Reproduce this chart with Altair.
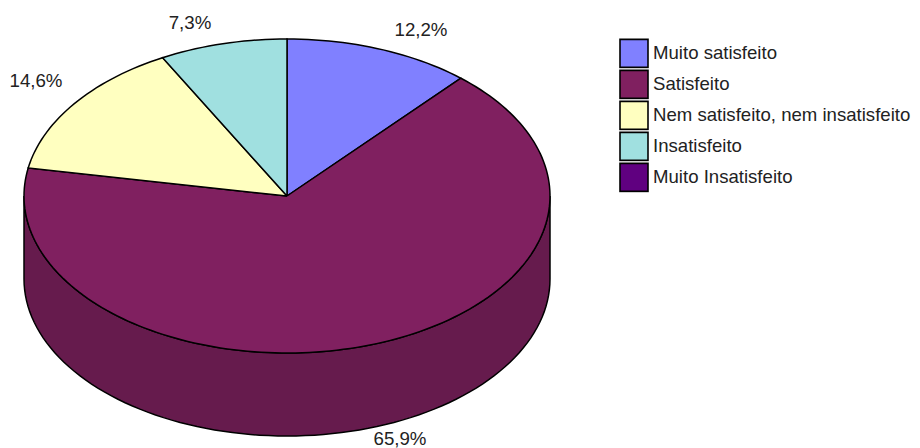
import math
import altair as alt
import pandas as pd

categories = ["Muito satisfeito", "Satisfeito", "Nem satisfeito, nem insatisfeito", "Insatisfeito", "Muito Insatisfeito"]
drawn_shares = [11.5, 66.36, 14.3, 7.84, 0.0]   # slice sizes as measured on the drawn ellipse
labels = ["12,2%", "65,9%", "14,6%", "7,3%"]
colors = ["#8080FF", "#802060", "#FFFFC0", "#A0E0E0", "#600080"]
wall_color = "#661B4D"

CX, CY, RX, RY, DEPTH = 287, 196, 263, 157, 83
label_xy = [(421, 30), (400, 439), (36, 81), (190, 23)]

def pt(deg, dy=0):
    a = math.radians(deg)
    return CX + RX * math.sin(a), CY - RY * math.cos(a) + dy

rows = []
# side wall
wall = [pt(90 + d) for d in range(0, 181, 2)] + [pt(270 - d, DEPTH) for d in range(0, 181, 2)]
wall.append(wall[0])
for i, (x, y) in enumerate(wall):
    rows.append(dict(shape="wall", i=i, x=x, y=y))
wall_df = pd.DataFrame(rows)

rows = []
start = 0.0
for cat, s in zip(categories, drawn_shares):
    if s <= 0:
        continue
    a0, a1 = start * 3.6, (start + s) * 3.6
    n = max(2, int((a1 - a0) / 1.5))
    p = [(CX, CY)] + [pt(a0 + (a1 - a0) * k / n) for k in range(n + 1)] + [(CX, CY)]
    for i, (x, y) in enumerate(p):
        rows.append(dict(cat=cat, i=i, x=x, y=y))
    start += s
top_df = pd.DataFrame(rows)

xs = alt.X("x:Q", scale=alt.Scale(domain=[8, 912], nice=False, zero=False), axis=None)
ys = alt.Y("y:Q", scale=alt.Scale(domain=[448, 8], nice=False, zero=False), axis=None)

legend = alt.Legend(title=None, orient="none", legendX=611, legendY=30, symbolType="square",
                    symbolSize=784, symbolStrokeColor="black", symbolStrokeWidth=1.6, symbolOpacity=1,
                    labelFont="Liberation Sans", labelFontSize=18.6, labelColor="#222222", labelOffset=4,
                    rowPadding=0, clipHeight=30.75, labelLimit=300)
fill_enc = alt.Fill("cat:N", scale=alt.Scale(domain=categories, range=colors), sort=categories, legend=legend)

wall_layer = alt.Chart(wall_df).mark_line(strokeWidth=1.5, color="black", fill=wall_color, interpolate="linear").encode(
    x=xs, y=ys, order="i:Q"
)
top_layer = alt.Chart(top_df).mark_line(strokeWidth=1.5, interpolate="linear").encode(
    x=xs, y=ys, order="i:Q", detail="cat:N",
    stroke=alt.value("black"),
    fill=fill_enc,
)
text_layer = alt.Chart(pd.DataFrame({"t": labels, "x": [p[0] for p in label_xy], "y": [p[1] for p in label_xy]})).mark_text(
    font="Liberation Sans", fontSize=18.7, color="#222222", align="center", baseline="middle"
).encode(x=xs, y=ys, text="t:N")

chart = alt.layer(wall_layer, top_layer, text_layer).properties(
    width=904, height=440, padding=0, autosize=alt.AutoSizeParams(type="none")
).configure_view(stroke=None)
chart.save("out.html", embed_options={"renderer": "svg", "actions": False})
